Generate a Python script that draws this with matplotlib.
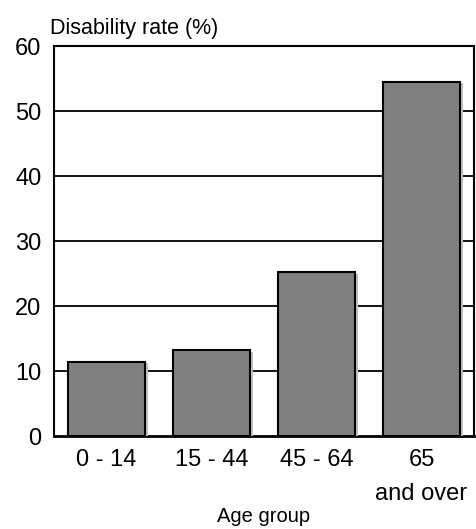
import numpy as np
import matplotlib.pyplot as plt
import matplotlib.patheffects as pe

plt.rcParams['font.family'] = ['Liberation Sans', 'DejaVu Sans']

# Veriler
age_groups = ["0 - 14", "15 - 44", "45 - 64", "65\nand over"]
disability_rate = [11.4, 13.2, 25.2, 54.5]
y_ticks = [0, 10, 20, 30, 40, 50, 60]

fig = plt.figure(figsize=(4.77, 5.29), dpi=100)
ax = fig.add_axes([0.1132, 0.1758, 0.8805, 0.7372])

x = np.arange(len(age_groups))

# yatay ızgara çizgileri (çubukların arkasında)
for t in y_ticks[1:-1]:
    ax.axhline(t, color="black", lw=1.3, zorder=1)

bars = ax.bar(x, disability_rate, width=0.74, color="#808080",
              edgecolor="black", linewidth=1.5, zorder=3)
for b in bars:
    b.set_path_effects([pe.SimplePatchShadow(offset=(2, -1), shadow_rgbFace="0.75", alpha=1),
                        pe.Normal()])

ax.set_xlim(-0.5, len(age_groups) - 0.5)
ax.set_ylim(0, 60)
ax.set_yticks(y_ticks)
ax.set_xticks(x)
ax.set_xticklabels(age_groups, fontsize=17, linespacing=1.75, va="top")
ax.tick_params(axis="both", length=0, labelsize=17)
ax.tick_params(axis="x", pad=9)
ax.tick_params(axis="y", pad=9)
for s in ax.spines.values():
    s.set_linewidth(1.5)
ax.spines["bottom"].set_linewidth(2)

fig.text(0.105, 0.947, "Disability rate (%)", fontsize=15.5, ha="left", va="center")
ax.set_xlabel("Age group", fontsize=14.5, labelpad=1)

fig.savefig("out.png", dpi=100, facecolor="white")
